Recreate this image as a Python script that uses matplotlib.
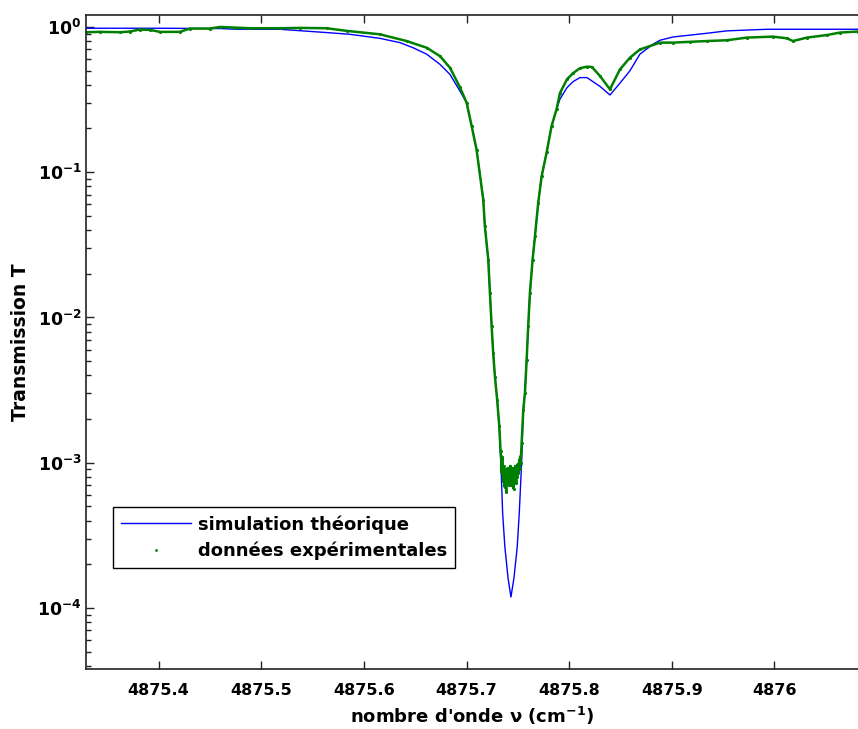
import math
import matplotlib
matplotlib.use("Agg")
import matplotlib.pyplot as plt
from matplotlib.lines import Line2D
from matplotlib.ticker import FixedLocator, FuncFormatter, LogLocator, NullFormatter

# simulation (blue line)
x_sim = [4875.329, 4875.400, 4875.460, 4875.4743, 4875.518, 4875.5636, 4875.5864,
         4875.6156, 4875.6351, 4875.6478, 4875.6611, 4875.6741, 4875.6838, 4875.6936,
         4875.7001, 4875.7050, 4875.7098, 4875.7163, 4875.7179, 4875.7212, 4875.7228,
         4875.7245, 4875.7260, 4875.7277, 4875.7299, 4875.7319, 4875.7335, 4875.7352,
         4875.7374, 4875.7405, 4875.7433, 4875.7462, 4875.7494, 4875.7514, 4875.7537,
         4875.7553, 4875.7569, 4875.7586, 4875.7601, 4875.7618, 4875.7644, 4875.7667,
         4875.7699, 4875.7732, 4875.7781, 4875.7829, 4875.7878, 4875.7910, 4875.7979,
         4875.8037, 4875.8105, 4875.8174, 4875.8300, 4875.8398, 4875.8495, 4875.8593,
         4875.8690, 4875.8817, 4875.8885, 4875.9012, 4875.9343, 4875.9538, 4875.9928,
         4876.0815]
t_sim = [0.98, 0.98, 0.975, 0.965, 0.964, 0.915, 0.89,
         0.835, 0.78, 0.72, 0.65, 0.553, 0.472, 0.362,
         0.301, 0.208, 0.143, 0.0648, 0.0424, 0.025, 0.0148,
         0.00867, 0.00571, 0.00392, 0.00271, 0.00177, 0.001, 0.00045,
         0.000262, 0.00016, 0.000119, 0.00016, 0.000262, 0.00045, 0.001,
         0.00231, 0.00303, 0.00511, 0.00867, 0.0148, 0.025, 0.0362,
         0.0618, 0.0938, 0.137, 0.208, 0.272, 0.318, 0.382,
         0.42, 0.448, 0.448, 0.39, 0.34, 0.41, 0.50,
         0.65, 0.76, 0.81, 0.853, 0.905, 0.94, 0.964,
         0.964]

# experimental data (green dots)
x_exp = [4875.329, 4875.3427, 4875.3622, 4875.3719, 4875.3817, 4875.3914, 4875.4012,
         4875.4207, 4875.4304, 4875.4499, 4875.4597, 4875.4743, 4875.4889, 4875.5181,
         4875.5376, 4875.5636, 4875.5831, 4875.6156, 4875.6416, 4875.6611, 4875.6741,
         4875.6838, 4875.6936, 4875.7001, 4875.7050, 4875.7098, 4875.7163, 4875.7179,
         4875.7212, 4875.7228, 4875.7245, 4875.7260, 4875.7277, 4875.7299, 4875.7319,
         4875.7332, 4875.7338, 4875.7343, 4875.7348, 4875.7352, 4875.7357, 4875.7362,
         4875.7367, 4875.7372, 4875.7377, 4875.7382, 4875.7387, 4875.7392, 4875.7397,
         4875.7401, 4875.7406, 4875.7411, 4875.7416, 4875.7421, 4875.7426, 4875.7430,
         4875.7435, 4875.7440, 4875.7445, 4875.7450, 4875.7455, 4875.7460, 4875.7465,
         4875.7470, 4875.7475, 4875.7479, 4875.7484, 4875.7489, 4875.7494, 4875.7499,
         4875.7504, 4875.7509, 4875.7514, 4875.7518, 4875.7523, 4875.7528, 4875.7533,
         4875.7537, 4875.7553, 4875.7569, 4875.7586, 4875.7601, 4875.7618, 4875.7644,
         4875.7667, 4875.7699, 4875.7732, 4875.7781, 4875.7829, 4875.7878, 4875.7910,
         4875.7979, 4875.8037, 4875.8105, 4875.8174, 4875.8222, 4875.8300, 4875.8398,
         4875.8495, 4875.8593, 4875.8690, 4875.8885, 4875.9012, 4875.9177, 4875.9343,
         4875.9538, 4875.9733, 4875.9986, 4876.0123, 4876.0181, 4876.0318, 4876.0513,
         4876.0639, 4876.0815]
t_exp = [0.92, 0.925, 0.92, 0.93, 0.96, 0.955, 0.925,
         0.925, 0.975, 0.975, 1.0, 0.99, 0.98, 0.98,
         0.985, 0.98, 0.94, 0.89, 0.80, 0.72, 0.63,
         0.525, 0.384, 0.301, 0.208, 0.143, 0.0648, 0.0424,
         0.025, 0.0148, 0.0087, 0.0057, 0.0039, 0.0027, 0.0018,
         0.0012, 0.00105, 0.00085, 0.0011, 0.0009, 0.00075, 0.00095,
         0.0008, 0.00068, 0.0009, 0.00075, 0.00063, 0.00085, 0.00078,
         0.00092, 0.0008, 0.0007, 0.00088, 0.00078, 0.00095, 0.0008,
         0.0007, 0.00088, 0.00076, 0.00092, 0.00082, 0.00066, 0.00085,
         0.00078, 0.00095, 0.00082, 0.00072, 0.0009, 0.0008, 0.00098,
         0.00085, 0.0009, 0.00105, 0.00092, 0.0011, 0.001, 0.0012,
         0.00137, 0.0023, 0.003, 0.0051, 0.0087, 0.0148, 0.025,
         0.0362, 0.0618, 0.0938, 0.137, 0.208, 0.272, 0.35,
         0.436, 0.48, 0.52, 0.533, 0.53, 0.46, 0.372,
         0.51, 0.615, 0.70, 0.78, 0.78, 0.79, 0.80,
         0.81, 0.845, 0.858, 0.835, 0.80, 0.845, 0.88,
         0.915, 0.93]

x_ticks = [4875.4, 4875.5, 4875.6, 4875.7, 4875.8, 4875.9, 4876.0]
x_ticklabels = ["4875.4", "4875.5", "4875.6", "4875.7", "4875.8", "4875.9", "4876"]
y_ticks = [1e-4, 1e-3, 1e-2, 1e-1, 1e0]

plt.rcParams['font.family'] = ['DejaVu Sans']
plt.rcParams['font.weight'] = 'bold'
plt.rcParams['mathtext.fontset'] = 'dejavusans'
plt.rcParams['mathtext.default'] = 'bf'

fig = plt.figure(figsize=(8.58, 7.29), dpi=100)
ax = fig.add_axes([0.1, 0.0823, 0.9, 0.8965])

blue = '#0000ff'
green = '#008000'
ax.plot(x_sim, t_sim, color=blue, lw=1.0)
ax.plot(x_exp, t_exp, color=green, lw=1.8, marker='.', ms=2.5)

ax.set_yscale('log')
ax.set_xlim(4875.329, 4876.0815)
ax.set_ylim(3.8e-5, 1.2)

ax.xaxis.set_major_locator(FixedLocator(x_ticks))
ax.set_xticklabels(x_ticklabels)
ax.yaxis.set_major_locator(FixedLocator(y_ticks))
ax.yaxis.set_major_formatter(FuncFormatter(lambda v, p: r'$10^{%d}$' % round(math.log10(v))))
ax.yaxis.set_minor_locator(LogLocator(base=10, subs=range(2, 10)))
ax.yaxis.set_minor_formatter(NullFormatter())

ax.tick_params(which='both', direction='in', top=True, right=False, width=1.0, color='#222222')
ax.tick_params(which='major', length=6)
ax.tick_params(which='minor', length=3.5)
ax.tick_params(axis='x', labelsize=11.5, pad=10)
ax.tick_params(axis='y', labelsize=12.5, pad=3)
for lab in ax.get_xticklabels() + ax.get_yticklabels():
    lab.set_fontweight('bold')
for s in ['left', 'bottom', 'top']:
    ax.spines[s].set_linewidth(1.2)
    ax.spines[s].set_color('#222222')
ax.spines['right'].set_visible(False)

ax.set_xlabel(r"nombre d'onde ν (cm$^{-1}$)", fontsize=13, fontweight='bold', labelpad=5)
ax.set_ylabel("Transmission T", fontsize=13.5, fontweight='bold', labelpad=5)

handles = [Line2D([], [], color=blue, lw=1.0),
           Line2D([], [], ls='none', marker='.', ms=2, color=green)]
leg = ax.legend(handles, ["simulation théorique", "données expérimentales"],
                loc='lower left', bbox_to_anchor=(0.035, 0.154), fontsize=13,
                frameon=True, fancybox=False, framealpha=1, edgecolor='black',
                handlelength=3.9, borderpad=0.45, labelspacing=0.45, handletextpad=0.35,
                borderaxespad=0)
leg.get_frame().set_linewidth(1.0)
for t in leg.get_texts():
    t.set_fontweight('bold')

fig.savefig('out.png', dpi=100)
